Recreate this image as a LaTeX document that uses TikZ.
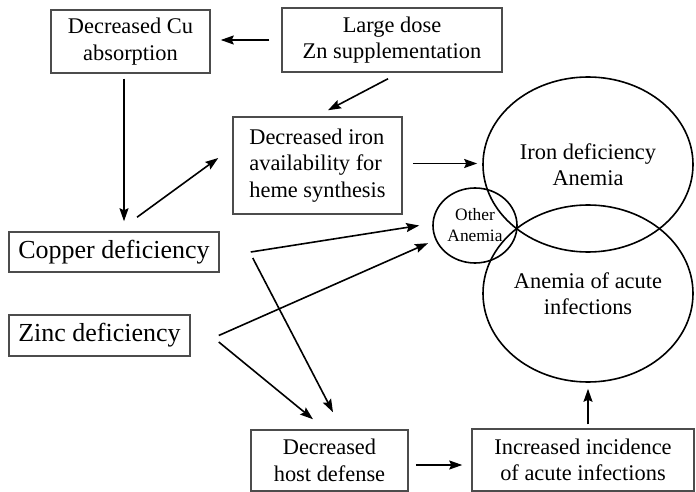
\documentclass[tikz,border=0pt]{standalone}
\usepackage{fontspec}
\setmainfont{Liberation Serif}
\usepackage{tikz}
\usetikzlibrary{arrows.meta,shapes.geometric}

\newcommand{\smalltxt}{\fontsize{22.4}{26.5}\selectfont}
\newcommand{\bigtxt}{\fontsize{26}{30}\selectfont}
\newcommand{\tinytxt}{\fontsize{17.4}{21}\selectfont}

\tikzset{
    cbox/.style={draw=black!70,line width=1.5pt,inner sep=0pt,align=center,font=\smalltxt},
    bigbox/.style={cbox,font=\bigtxt},
    oval/.style={ellipse,draw=black,line width=1.6pt,inner sep=0pt,align=center,font=\smalltxt},
    arr/.style={line width=1.6pt,-{Stealth[length=13pt,width=9pt,inset=2pt]}}
}

\begin{document}
\begin{tikzpicture}[x=1pt,y=-1pt]
    \useasboundingbox (0,0) rectangle (696,492);
    % top boxes
        \node[cbox,minimum width=159pt,minimum height=63pt] (cuabs) at (130.5,41.5) {Decreased Cu\\absorption};
        \node[cbox,minimum width=220pt,minimum height=64pt] (zndose) at (392,40) {Large dose\\Zn supplementation};
        \node[cbox,align=left,minimum width=169pt,minimum height=97pt] (ironav) at (317.5,165.5) {Decreased iron\\availability for\\heme synthesis};
    % deficiencies
        \node[bigbox,minimum width=210pt,minimum height=40pt] (cudef) at (114,252) {Copper deficiency};
        \node[bigbox,minimum width=181pt,minimum height=41pt] (zndef) at (99.5,335.5) {Zinc deficiency};
    % bottom boxes
        \node[cbox,minimum width=157pt,minimum height=61pt] (hostdef) at (329.5,460.5) {Decreased\\host defense};
        \node[cbox,minimum width=222pt,minimum height=62pt] (infect) at (583,460) {Increased incidence\\of acute infections};
    % anemias
        \node[oval,minimum width=210pt,minimum height=175pt] (irondef) at (588,164.5) {Iron deficiency\\Anemia};
        \node[oval,minimum width=210pt,minimum height=177pt] (acute) at (588,293.5) {Anemia of acute\\infections};
        \node[oval,font=\tinytxt,minimum width=84pt,minimum height=75pt] (other) at (475,225.5) {Other\\Anemia};

    % arrows
        \draw[arr,shorten <=12pt,shorten >=10pt] (zndose.west) -- (zndose.west -| cuabs.east);
        \draw[arr] ([xshift=-4pt,yshift=-6pt]zndose.south) -- ([xshift=10.5pt,yshift=6pt]ironav.north);
        \draw[arr,shorten <=5pt,shorten >=10pt] ([xshift=-6.5pt]cuabs.south) -- ([xshift=-6.5pt]cuabs.south |- cudef.north);
        \draw[arr] ([xshift=23pt,yshift=14pt]cudef.north) -- ([xshift=-14pt,yshift=7.5pt]ironav.west);
        \draw[arr,shorten <=10pt,shorten >=5pt] ([yshift=2pt]ironav.east) -- ([yshift=1pt]irondef.west);
        % copper
        \draw[arr] ([xshift=31pt]cudef.east) -- ([xshift=-13pt]other.west);
        \draw[arr] ([xshift=33pt,yshift=-6pt]cudef.east) -- ([xshift=3.5pt,yshift=17pt]hostdef.north);
        % zinc
        \draw[arr,shorten >=8pt] ([xshift=28pt]zndef.east) -- (other.200);
        \draw[arr] ([xshift=28pt,yshift=-6.5pt]zndef.east) -- ([xshift=-16.5pt,yshift=10pt]hostdef.north);
        % bottom
        \draw[arr,shorten <=7pt,shorten >=9pt] ([yshift=-4.5pt]hostdef.east) -- ([yshift=-5pt]infect.west);
        \draw[arr,shorten <=4pt,shorten >=6pt] ([xshift=5pt]infect.north) -- (acute.south);
\end{tikzpicture}
\end{document}
